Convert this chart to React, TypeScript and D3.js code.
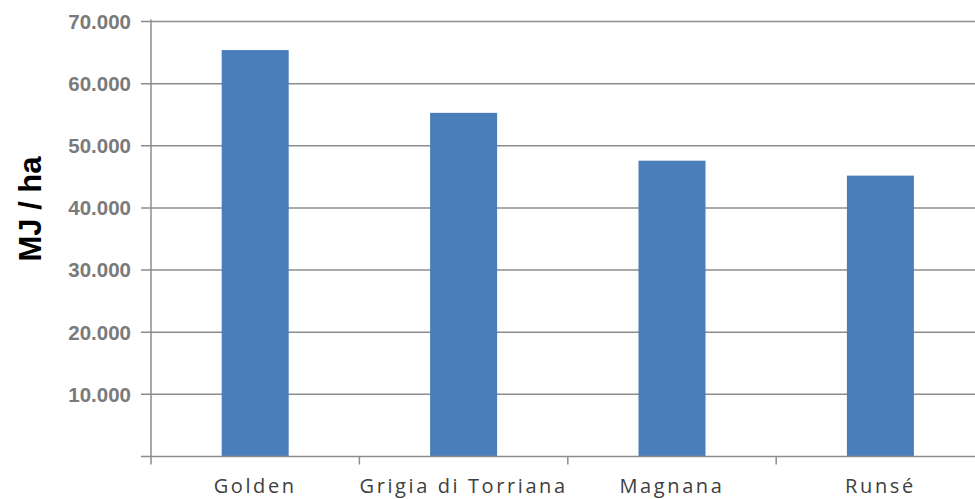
import React from "react";
import * as d3 from "d3";

const categories = ["Golden", "Grigia di Torriana", "Magnana", "Runsé"];
const values = [65400, 55300, 47600, 45200];
const yTicks = [10000, 20000, 30000, 40000, 50000, 60000, 70000];

const W = 975;
const H = 499;
const x0 = 151;
const bandW = 208.4;
const yTop = 21.5;
const yBase = 456.5;

export default function App() {
  const x = d3
    .scaleBand<string>()
    .domain(categories)
    .range([x0, x0 + bandW * categories.length])
    .paddingInner(0)
    .paddingOuter(0);
  const y = d3.scaleLinear().domain([0, 70000]).range([yBase, yTop]);
  const barW = 67;
  const label = (v: number) => (v / 1000).toFixed(3);

  return (
    <svg
      width={W}
      height={H}
      style={{ position: "absolute", left: 0, top: 0, background: "#fff" }}
    >
      <rect width={W} height={H} fill="#fff" />
      {yTicks.map((t) => (
        <g key={t}>
          <line
            x1={141}
            x2={W}
            y1={y(t)}
            y2={y(t)}
            stroke="#8c8c8c"
            strokeWidth={1.5}
          />
          <text
            x={131}
            y={y(t)}
            dy="0.36em"
            textAnchor="end"
            fontFamily="Liberation Sans, Arial, sans-serif"
            fontWeight="bold"
            fontSize={20.5}
            fill="#7a7a7a"
          >
            {label(t)}
          </text>
        </g>
      ))}
      {categories.map((c, i) => (
        <rect
          key={c}
          x={(x(c) as number) + x.bandwidth() / 2 - barW / 2}
          y={y(values[i])}
          width={barW}
          height={yBase - y(values[i])}
          fill="#4a7ebb"
        />
      ))}
      <line
        x1={x0}
        x2={x0}
        y1={yTop - 2}
        y2={yBase + 8}
        stroke="#8c8c8c"
        strokeWidth={1.5}
      />
      <line
        x1={141}
        x2={W}
        y1={yBase}
        y2={yBase}
        stroke="#8c8c8c"
        strokeWidth={1.5}
      />
      {categories.map((c) => (
        <line
          key={"t" + c}
          x1={(x(c) as number) + x.bandwidth()}
          x2={(x(c) as number) + x.bandwidth()}
          y1={yBase}
          y2={yBase + 8}
          stroke="#8c8c8c"
          strokeWidth={1.5}
        />
      ))}
      {categories.map((c) => (
        <text
          key={"l" + c}
          x={(x(c) as number) + x.bandwidth() / 2}
          y={493}
          textAnchor="middle"
          fontFamily="Open Sans, DejaVu Sans, sans-serif"
          fontSize={20}
          letterSpacing={2.6}
          fill="#404040"
        >
          {c}
        </text>
      ))}
      <text
        transform={`translate(41, 209) rotate(-90)`}
        textAnchor="middle"
        fontFamily="Liberation Sans, Arial, sans-serif"
        fontWeight="bold"
        fontSize={31}
        fill="#000"
      >
        MJ / ha
      </text>
    </svg>
  );
}
